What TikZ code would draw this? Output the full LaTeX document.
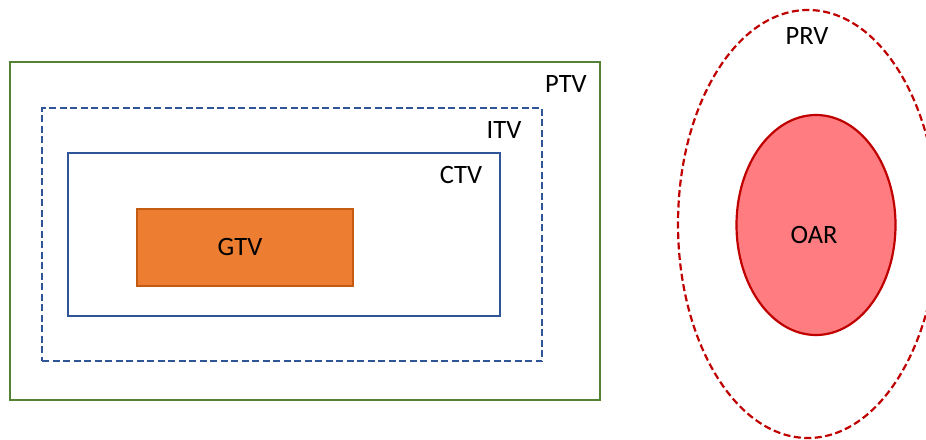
\documentclass[tikz,border=0pt]{standalone}
\usepackage{fontspec}
\setmainfont{Carlito}
\usetikzlibrary{shapes.geometric}
\definecolor{ptvgreen}{HTML}{548235}
\definecolor{tvblue}{HTML}{2F5597}
\definecolor{gtvfill}{HTML}{ED7D31}
\definecolor{gtvline}{HTML}{C55A11}
\definecolor{oarfill}{HTML}{FF7C80}
\definecolor{oarline}{HTML}{C00000}
\tikzset{
  vol/.style={rectangle, inner sep=0pt, line width=2.4pt, fill=none},
  volshape/.style={ellipse, inner sep=0pt},
  lbl/.style={inner sep=0pt, font=\fontsize{26.5}{30}\selectfont},
  shortdash/.style={dash pattern=on 7pt off 3.5pt},
}
\begin{document}
\begin{tikzpicture}[x=1pt,y=-1pt]
  \useasboundingbox (0,0) rectangle (926,439);
  % target volumes, nested rectangles
  \node[vol, draw=ptvgreen, minimum width=590pt, minimum height=338pt] (ptv) at (305,231) {};
  \node[vol, draw=tvblue, shortdash, minimum width=500pt, minimum height=253pt] (itv) at (292,234.5) {};
  \node[vol, draw=tvblue, minimum width=432pt, minimum height=163pt] (ctv) at (284,234.5) {};
  \node[vol, draw=gtvline, fill=gtvfill, line width=2pt, minimum width=216pt, minimum height=77pt] (gtv) at (245,247.5) {};
  % organ at risk and its planning margin
  \node[volshape, draw=oarline, line width=2.2pt, dash pattern=on 7pt off 3.5pt, minimum width=260pt, minimum height=428pt] (prv) at (808,224) {};
  \node[volshape, draw=oarline, fill=oarfill, line width=2.2pt, minimum width=159pt, minimum height=220pt] (oar) at (816,225) {};
  % labels
  \node[lbl] (ptvl) at (566,84) {PTV};
  \node[lbl] (itvl) at (504,130) {ITV};
  \node[lbl] (ctvl) at (461,175) {CTV};
  \node[lbl] (gtvl) at (240,247) {GTV};
  \node[lbl] (oarl) at (814,235) {OAR};
  \node[lbl] (prvl) at (807,36) {PRV};
\end{tikzpicture}
\end{document}
